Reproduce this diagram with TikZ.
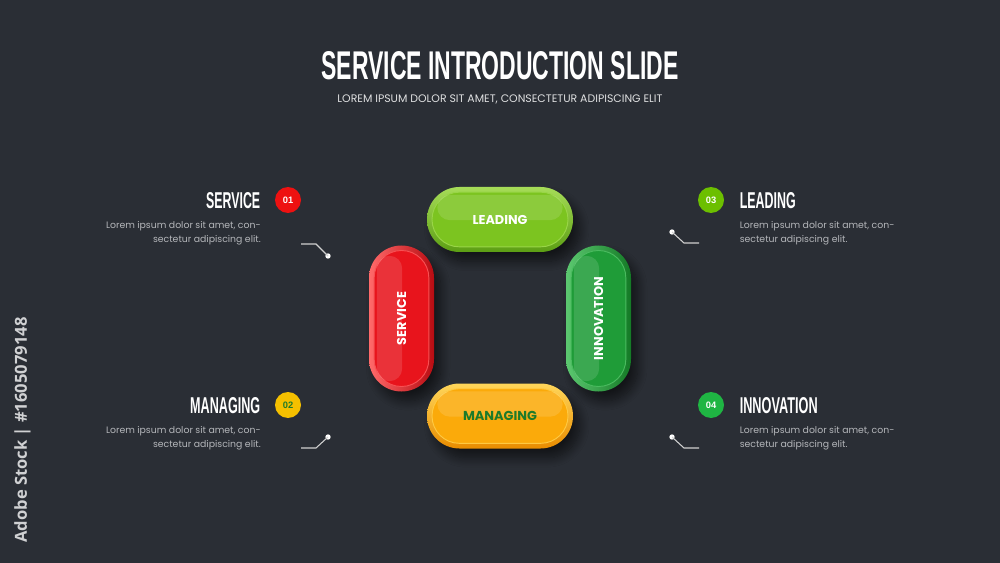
\documentclass[tikz,border=0pt]{standalone}
\usepackage{fontspec}
\setmainfont{Poppins}
\newfontfamily\headfont{Liberation Sans}
\newfontfamily\wmfont{Open Sans}
\usetikzlibrary{shapes.misc,shadows.blur}
\definecolor{bg}{HTML}{2A2E35}
\definecolor{loremc}{HTML}{B4B6BA}
\definecolor{linec}{HTML}{D0D0D0}
\definecolor{limeD}{HTML}{5C9E14}\definecolor{limeB}{HTML}{7CC420}\definecolor{limeL}{HTML}{A6DC58}
\definecolor{redD}{HTML}{B80C12}\definecolor{redB}{HTML}{E8141C}\definecolor{redL}{HTML}{FF6A6A}
\definecolor{grnD}{HTML}{147A26}\definecolor{grnB}{HTML}{1F9C38}\definecolor{grnL}{HTML}{5CC870}
\definecolor{orgD}{HTML}{E88C00}\definecolor{orgB}{HTML}{FBAA0A}\definecolor{orgL}{HTML}{FFD65A}
\definecolor{c01}{HTML}{EE1111}\definecolor{c02}{HTML}{F5C000}\definecolor{c03}{HTML}{6CBF00}\definecolor{c04}{HTML}{1FB543}
\definecolor{mtext}{HTML}{1E7A2A}
\tikzset{
  pillbase/.style={rounded rectangle, minimum width=109.5pt, minimum height=48.75pt, inner sep=0pt, draw=none,
    blur shadow={shadow xshift=5pt, shadow yshift=-7pt, shadow blur steps=12, shadow opacity=55, shadow blur radius=7pt}},
  pillinner/.style={rounded rectangle, minimum width=102pt, minimum height=41pt, inner sep=0pt, line width=0.7pt},
  pillgloss/.style={rounded rectangle, minimum width=94pt, minimum height=19pt, inner sep=0pt, draw=none, fill=white, fill opacity=0.13},
  pilltext/.style={inner sep=0pt, text=white, font=\bfseries},
  numc/.style={circle, minimum size=19.5pt, inner sep=0pt, font=\fontsize{7}{8}\selectfont\headfont\bfseries, text=white},
  lbl/.style={inner sep=0pt, text=white},
  lorem/.style={inner sep=0pt, text=loremc, font=\fontsize{7}{10.5}\selectfont},
  conn/.style={draw=linec, line width=0.8pt},
  dotn/.style={circle, fill=white, minimum size=4pt, inner sep=0pt},
}
\begin{document}
\begin{tikzpicture}[x=0.75pt,y=-0.75pt]
\useasboundingbox[fill=bg] (0,0) rectangle (1000,563);

% watermark strip text
\node[inner sep=0pt, rotate=90, text=white!78!bg] (wm) at (22.5,430) {\resizebox{168.75pt}{!}{\wmfont\bfseries Adobe Stock | \#1605079148}};

% title
\node[lbl] (title) at (500,66) {\resizebox{267.75pt}{21pt}{\headfont\bfseries SERVICE INTRODUCTION SLIDE}};
\node[inner sep=0pt, text=white!85!bg] (sub) at (500,99.5) {\resizebox{243.75pt}{!}{LOREM IPSUM DOLOR SIT AMET, CONSECTETUR ADIPISCING ELIT}};

% pills
\node[pillbase, top color=limeL, bottom color=limeD] (pL) at (500,219.5) {};
\node[pillinner, fill=limeB, draw=limeL!70!limeB] (pLi) at (pL.center) {};
\node[pillgloss] (pLg) at ([yshift=9pt]pL.center) {};
\node[pilltext] (tL) at (pL.center) {\resizebox{41.25pt}{!}{LEADING}};

\node[pillbase, rotate=90, left color=redL, right color=redD] (pS) at (401.5,318.5) {};
\node[pillinner, rotate=90, fill=redB, draw=redL!70!redB] (pSi) at (pS.center) {};
\node[pillgloss, rotate=90] (pSg) at ([xshift=-9pt]pS.center) {};
\node[pilltext, rotate=90] (tS) at (pS.center) {\resizebox{39.75pt}{!}{SERVICE}};

\node[pillbase, rotate=90, left color=grnL, right color=grnD] (pI) at (598.5,318.5) {};
\node[pillinner, rotate=90, fill=grnB, draw=grnL!70!grnB] (pIi) at (pI.center) {};
\node[pillgloss, rotate=90] (pIg) at ([xshift=-9pt]pI.center) {};
\node[pilltext, rotate=90] (tI) at (pI.center) {\resizebox{62.25pt}{!}{INNOVATION}};

\node[pillbase, top color=orgL, bottom color=orgD] (pM) at (500,416) {};
\node[pillinner, fill=orgB, draw=orgL!70!orgB] (pMi) at (pM.center) {};
\node[pillgloss] (pMg) at ([yshift=9pt]pM.center) {};
\node[pilltext, text=mtext] (tM) at (pM.center) {\resizebox{55.5pt}{!}{MANAGING}};

% number circles
\node[numc, fill=c01] (n1) at (288,200) {01};
\node[numc, fill=c02, text=mtext] (n2) at (288,405) {02};
\node[numc, fill=c03] (n3) at (711,200) {03};
\node[numc, fill=c04] (n4) at (711,405) {04};

% labels
\node[lbl, anchor=east] (l1) at (260.5,200.5) {\resizebox{40.5pt}{12pt}{\headfont\bfseries SERVICE}};
\node[lbl, anchor=east] (l2) at (260.5,405.5) {\resizebox{52.5pt}{12pt}{\headfont\bfseries MANAGING}};
\node[lbl, anchor=west] (l3) at (739.5,200.5) {\resizebox{42pt}{12pt}{\headfont\bfseries LEADING}};
\node[lbl, anchor=west] (l4) at (739.5,405.5) {\resizebox{58.5pt}{12pt}{\headfont\bfseries INNOVATION}};

% lorem text
\node[lorem, anchor=north east, align=right] (d1) at (261,221.5) {Lorem ipsum dolor sit amet, con-\\sectetur adipiscing elit.};
\node[lorem, anchor=north east, align=right] (d2) at (261,426.5) {Lorem ipsum dolor sit amet, con-\\sectetur adipiscing elit.};
\node[lorem, anchor=north west, align=left] (d3) at (739.5,221.5) {Lorem ipsum dolor sit amet, con-\\sectetur adipiscing elit.};
\node[lorem, anchor=north west, align=left] (d4) at (739.5,426.5) {Lorem ipsum dolor sit amet, con-\\sectetur adipiscing elit.};

% connectors
\coordinate (a1) at (301,244); \coordinate (b1) at (316,244); \node[dotn] (e1) at (328,256) {};
\draw[conn] (a1) -- (b1) -- (e1.center);
\coordinate (a2) at (301,448); \coordinate (b2) at (316,448); \node[dotn] (e2) at (328,437) {};
\draw[conn] (a2) -- (b2) -- (e2.center);
\coordinate (a3) at (699,243); \coordinate (b3) at (684,243); \node[dotn] (e3) at (672,232) {};
\draw[conn] (a3) -- (b3) -- (e3.center);
\coordinate (a4) at (699,448); \coordinate (b4) at (684,448); \node[dotn] (e4) at (672,437) {};
\draw[conn] (a4) -- (b4) -- (e4.center);
\end{tikzpicture}
\end{document}
